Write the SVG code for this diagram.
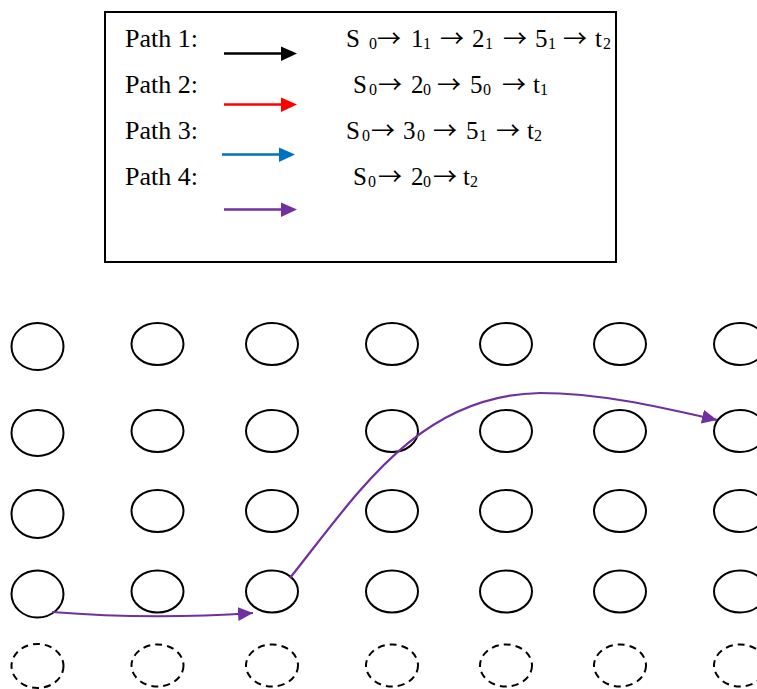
<svg xmlns="http://www.w3.org/2000/svg" width="757" height="689" viewBox="0 0 757 689">
<style>
.lbl{font-family:"Liberation Serif","Times New Roman",serif;font-size:25px;fill:#000}
.pl{font-size:26px}
.sub{font-size:16px}
.ar{font-family:"Noto Sans CJK SC","DejaVu Sans",sans-serif;font-size:24px}
.n{fill:none;stroke:#000;stroke-width:2}
.d{fill:none;stroke:#000;stroke-width:2;stroke-dasharray:7 5}
.leg{stroke-width:2.7;fill:none}
.conn{fill:none;stroke:#7030A0;stroke-width:2.2}
</style>
<defs>
<marker id="mk" markerWidth="16" markerHeight="14" refX="15" refY="7" orient="auto" markerUnits="userSpaceOnUse"><path d="M0,0 L15,7 L0,14 Z" fill="#7030A0"/></marker>
</defs>
<rect width="757" height="689" fill="#fff"/>
<g id="legend">
<rect x="105" y="12" width="511" height="250" fill="none" stroke="#000" stroke-width="2"/>
<text class="lbl pl" x="125" y="46.5">Path 1:</text>
<text class="lbl pl" x="125" y="92.5">Path 2:</text>
<text class="lbl pl" x="125" y="138.5">Path 3:</text>
<text class="lbl pl" x="125" y="185">Path 4:</text>
<line class="leg" x1="224" y1="53.5" x2="283" y2="53.5" stroke="#000"/><path d="M281,46.5 L297,53.5 L281,61 Z" fill="#000"/>
<line class="leg" x1="224" y1="104.5" x2="283" y2="104.5" stroke="#FF0000"/><path d="M281,97.5 L297,104.5 L281,112 Z" fill="#FF0000"/>
<line class="leg" x1="222" y1="154.5" x2="281" y2="154.5" stroke="#0070C0"/><path d="M279,147.5 L295,154.5 L279,162 Z" fill="#0070C0"/>
<line class="leg" x1="224" y1="209.5" x2="283" y2="209.5" stroke="#7030A0"/><path d="M281,202.5 L297,209.5 L281,217 Z" fill="#7030A0"/>
<text class="lbl" y="46.5"><tspan x="346">S</tspan><tspan class="sub" x="369" y="48.5">0</tspan><tspan class="ar" x="377" y="46.5">→</tspan><tspan x="411">1</tspan><tspan class="sub" x="423" y="48.5">1</tspan><tspan class="ar" x="440" y="46.5">→</tspan><tspan x="472">2</tspan><tspan class="sub" x="485" y="48.5">1</tspan><tspan class="ar" x="503" y="46.5">→</tspan><tspan x="535">5</tspan><tspan class="sub" x="548" y="48.5">1</tspan><tspan class="ar" x="563" y="46.5">→</tspan><tspan x="595">t</tspan><tspan class="sub" x="603" y="48.5">2</tspan></text>
<text class="lbl" y="92.5"><tspan x="353">S</tspan><tspan class="sub" x="369" y="94.5">0</tspan><tspan class="ar" x="378" y="92.5">→</tspan><tspan x="411">2</tspan><tspan class="sub" x="423" y="94.5">0</tspan><tspan class="ar" x="437" y="92.5">→</tspan><tspan x="470">5</tspan><tspan class="sub" x="483" y="94.5">0</tspan><tspan class="ar" x="502" y="92.5">→</tspan><tspan x="533">t</tspan><tspan class="sub" x="540" y="94.5">1</tspan></text>
<text class="lbl" y="138.5"><tspan x="346">S</tspan><tspan class="sub" x="362" y="140.5">0</tspan><tspan class="ar" x="371" y="138.5">→</tspan><tspan x="403">3</tspan><tspan class="sub" x="417" y="140.5">0</tspan><tspan class="ar" x="433" y="138.5">→</tspan><tspan x="466">5</tspan><tspan class="sub" x="479" y="140.5">1</tspan><tspan class="ar" x="496" y="138.5">→</tspan><tspan x="527">t</tspan><tspan class="sub" x="534" y="140.5">2</tspan></text>
<text class="lbl" y="185"><tspan x="353">S</tspan><tspan class="sub" x="368" y="187">0</tspan><tspan class="ar" x="378" y="185">→</tspan><tspan x="411">2</tspan><tspan class="sub" x="423" y="187">0</tspan><tspan class="ar" x="433" y="185">→</tspan><tspan x="463">t</tspan><tspan class="sub" x="470" y="187">2</tspan></text>
</g>
<g id="nodes">
<g id="n-c1"><ellipse class="n" cx="37.5" cy="346.5" rx="26" ry="23.5"/><ellipse class="n" cx="37.5" cy="433" rx="26" ry="23"/><ellipse class="n" cx="37.5" cy="514" rx="26" ry="24"/><ellipse class="n" cx="37.5" cy="594" rx="26" ry="23.5"/><ellipse class="d" cx="37.5" cy="666" rx="26" ry="22"/></g>
<g id="n-c2"><ellipse class="n" cx="157.5" cy="344" rx="26" ry="21"/><ellipse class="n" cx="157.5" cy="431" rx="26" ry="21"/><ellipse class="n" cx="157.5" cy="511" rx="26" ry="21"/><ellipse class="n" cx="157.5" cy="591.5" rx="26" ry="21"/><ellipse class="d" cx="157.5" cy="665.5" rx="26" ry="21"/></g>
<g id="n-c3"><ellipse class="n" cx="272" cy="344" rx="26" ry="21"/><ellipse class="n" cx="272" cy="431" rx="26" ry="21"/><ellipse class="n" cx="272" cy="511" rx="26" ry="21"/><ellipse class="n" cx="272" cy="591.5" rx="26" ry="21"/><ellipse class="d" cx="272" cy="665.5" rx="26" ry="21"/></g>
<g id="n-c4"><ellipse class="n" cx="392" cy="344" rx="26" ry="21"/><ellipse class="n" cx="392" cy="431" rx="26" ry="21"/><ellipse class="n" cx="392" cy="511" rx="26" ry="21"/><ellipse class="n" cx="392" cy="591.5" rx="26" ry="21"/><ellipse class="d" cx="392" cy="665.5" rx="26" ry="21"/></g>
<g id="n-c5"><ellipse class="n" cx="506" cy="344" rx="26" ry="21"/><ellipse class="n" cx="506" cy="431" rx="26" ry="21"/><ellipse class="n" cx="506" cy="511" rx="26" ry="21"/><ellipse class="n" cx="506" cy="591.5" rx="26" ry="21"/><ellipse class="d" cx="506" cy="665.5" rx="26" ry="21"/></g>
<g id="n-c6"><ellipse class="n" cx="620" cy="344" rx="26" ry="21"/><ellipse class="n" cx="620" cy="431" rx="26" ry="21"/><ellipse class="n" cx="620" cy="511" rx="26" ry="21"/><ellipse class="n" cx="620" cy="591.5" rx="26" ry="21"/><ellipse class="d" cx="620" cy="665.5" rx="26" ry="21"/></g>
<g id="n-c7"><ellipse class="n" cx="740" cy="344" rx="26" ry="21"/><ellipse class="n" cx="740" cy="431" rx="26" ry="21"/><ellipse class="n" cx="740" cy="511" rx="26" ry="21"/><ellipse class="n" cx="740" cy="591.5" rx="26" ry="21"/><ellipse class="d" cx="740" cy="665.5" rx="26" ry="21"/></g>
</g>
<g id="connectors">
<path class="conn" d="M52,612 Q150,620 253,613" marker-end="url(#mk)"/>
<path class="conn" d="M290,578 C360,490 420,395 540,393 C600,393 660,407 717,420" marker-end="url(#mk)"/>
</g>
</svg>
